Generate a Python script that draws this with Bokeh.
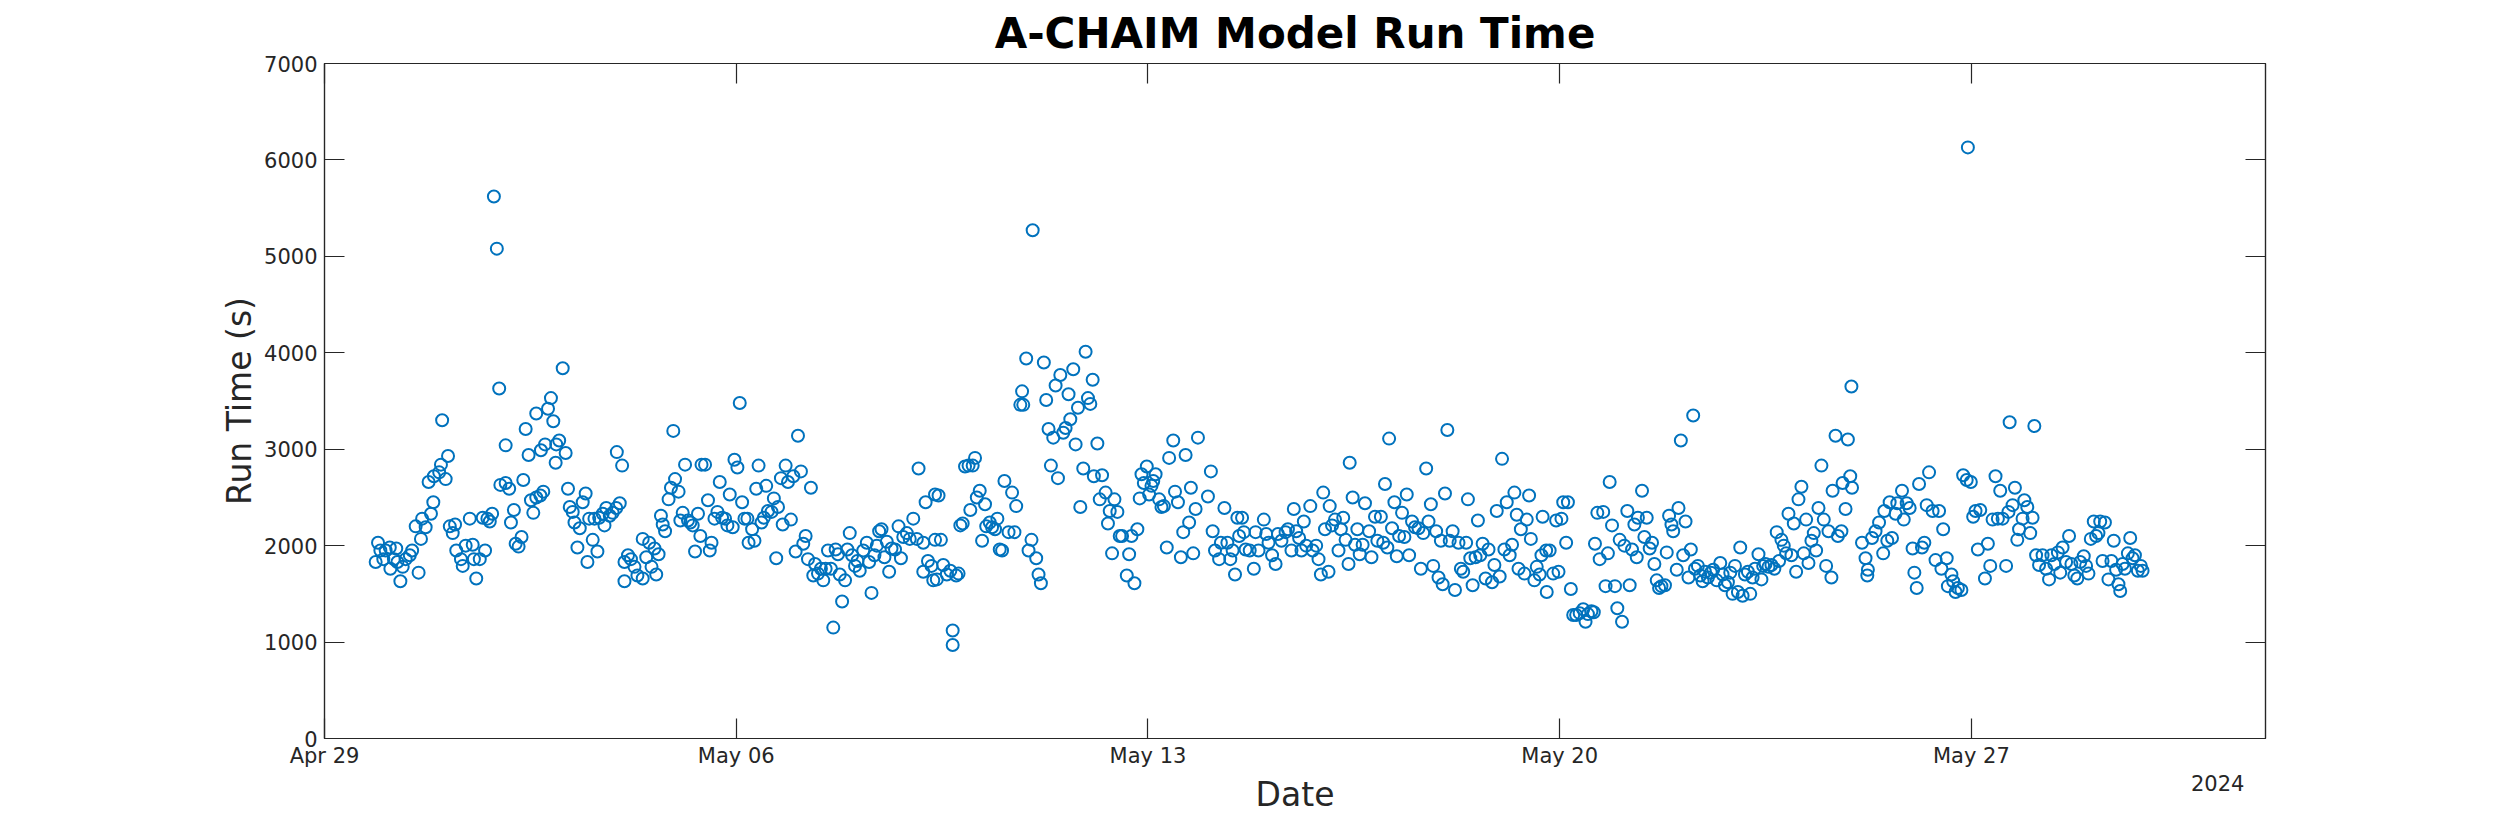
import pandas as pd
from bokeh.embed import file_html
from bokeh.resources import INLINE
from bokeh.plotting import figure
from bokeh.models import (ColumnDataSource, Range1d, FixedTicker, DatetimeAxis,
                          LinearAxis)

# data (days after 2024-04-29 00:00, run time in s)
start_date = "2024-04-29"
end_date = "2024-06-01"

run_day = [
    0.87, 0.91, 0.95, 1.00, 1.04, 1.11, 1.12, 1.18, 1.22, 1.24, 1.29, 1.33, 1.38, 1.45, 1.49,
    1.55, 1.60, 1.64, 1.66, 1.72, 1.77, 1.81, 1.85, 1.86, 1.95, 1.98, 2.00, 2.06, 2.10, 2.13,
    2.18, 2.22, 2.24, 2.32, 2.35, 2.40, 2.47, 2.52, 2.54, 2.58, 2.64, 2.69, 2.73, 2.77, 2.81,
    2.85, 2.88, 2.93, 2.97, 2.99, 3.08, 3.08, 3.14, 3.17, 3.22, 3.25, 3.30, 3.35, 3.38, 3.42,
    3.47, 3.51, 3.55, 3.60, 3.60, 3.67, 3.68, 3.72, 3.75, 3.80, 3.85, 3.89, 3.93, 3.94, 3.99,
    4.05, 4.10, 4.14, 4.17, 4.22, 4.25, 4.30, 4.34, 4.39, 4.44, 4.47, 4.50, 4.56, 4.59, 4.64,
    4.67, 4.73, 4.76, 4.79, 4.85, 4.90, 4.96, 4.97, 5.02, 5.06, 5.10, 5.10, 5.16,
    5.21, 5.27, 5.32, 5.41, 5.41, 5.47, 5.52, 5.56, 5.61, 5.64, 5.68, 5.72, 5.75, 5.79, 5.85,
    5.89, 5.93, 5.96, 6.02, 6.05, 6.09, 6.13, 6.18, 6.22, 6.26, 6.30, 6.35, 6.39, 6.41, 6.47,
    6.52, 6.55, 6.58, 6.63, 6.68, 6.72, 6.76, 6.81, 6.85, 6.89, 6.94, 6.97, 7.02, 7.06, 7.10,
    7.14, 7.19, 7.21, 7.27, 7.31, 7.34, 7.38, 7.43, 7.47, 7.51, 7.54, 7.60, 7.64, 7.68, 7.71,
    7.76, 7.79, 7.84, 7.88, 7.93, 7.97, 8.01, 8.05, 8.10, 8.14, 8.18, 8.22, 8.27, 8.31, 8.34,
    8.39, 8.44, 8.48, 8.52, 8.56, 8.61, 8.65, 8.69, 8.73, 8.76, 8.80, 8.85, 8.89, 8.93, 8.97,
    9.02, 9.06, 9.10, 9.16, 9.22, 9.26, 9.30, 9.35, 9.39, 9.43, 9.47, 9.52, 9.56, 9.60, 9.64,
    9.70, 9.76, 9.80, 9.84, 9.90, 9.95, 10.01, 10.07, 10.10, 10.18, 10.18, 10.22, 10.26, 10.32,
    10.35, 10.38, 10.38,
    10.41, 10.44, 10.48, 10.52, 10.58, 10.64, 10.68, 10.68, 10.74, 10.78, 10.81, 10.85, 10.89,
    10.95, 10.98, 11.02, 11.06, 11.09, 11.14, 11.18, 11.23, 11.25, 11.31, 11.35, 11.40, 11.44,
    11.48, 11.52, 11.56, 11.63, 11.69, 11.73, 11.76, 11.83, 11.86, 11.88, 11.93, 11.97, 12.02,
    12.04, 12.10, 12.14, 12.18, 12.23, 12.27, 12.31, 12.35, 12.39, 12.43, 12.47, 12.51, 12.56,
    12.60, 12.65, 12.68, 12.73, 12.77, 12.81, 12.85, 12.90, 12.94, 12.98, 13.02, 13.06, 13.08,
    13.14, 13.18, 13.22, 13.28, 13.32, 13.35, 13.39, 13.43, 13.48, 13.52, 13.56, 13.64, 13.68,
    13.72, 13.77, 13.82, 13.86, 13.89, 13.93, 13.98, 14.02, 14.06, 14.09, 14.13, 14.19, 14.23,
    14.27, 14.32, 14.36, 14.43, 14.46, 14.51, 14.56, 14.60, 14.64, 14.70, 14.73, 14.77, 14.81,
    14.85, 15.02, 15.07, 15.10, 15.14, 15.21, 15.24, 15.30, 15.35, 15.40, 15.44, 15.48, 15.52,
    15.55,
    15.60, 15.63, 15.66, 15.73, 15.80, 15.83, 15.88, 15.97, 16.01, 16.05, 16.11, 16.17, 16.21,
    16.27, 16.34, 16.38, 16.44, 16.48, 16.52, 16.57, 16.61, 16.65, 16.69, 16.76, 16.80, 16.86,
    16.90, 16.94, 16.98, 17.01, 17.07, 17.09, 17.13, 17.18, 17.24, 17.28, 17.32, 17.36, 17.41,
    17.43, 17.48, 17.52, 17.56, 17.60, 17.65, 17.69, 17.76, 17.80, 17.86, 17.90, 17.96, 18.00,
    18.03, 18.07, 18.10, 18.15, 18.19, 18.23, 18.27, 18.32, 18.36, 18.40, 18.44, 18.49, 18.54,
    18.60, 18.64, 18.68, 18.73, 18.77, 18.81, 18.85, 18.90, 18.94, 18.98, 19.01, 19.05, 19.09,
    19.13, 19.18, 19.22, 19.28, 19.32, 19.36, 19.41, 19.44, 19.48, 19.52, 19.57, 19.61, 19.65,
    19.69, 19.74, 19.79, 19.85, 19.89, 19.93, 19.98, 20.02, 20.06, 20.10, 20.15, 20.19, 20.23,
    20.27, 20.30, 20.34, 20.40, 20.44, 20.48, 20.51, 20.57, 20.61, 20.66, 20.69, 20.71, 20.77,
    20.78,
    20.83, 20.89, 20.94, 20.98, 21.03, 21.06, 21.11, 21.14, 21.19, 21.23, 21.28, 21.34, 21.40,
    21.44, 21.48, 21.54, 21.58, 21.60, 21.64, 21.68, 21.74, 21.78, 21.82, 21.85, 21.89, 21.94,
    21.98, 22.02, 22.06, 22.10, 22.15, 22.19, 22.23, 22.27, 22.31, 22.33, 22.40, 22.44, 22.48,
    22.53, 22.57, 22.61, 22.65, 22.69, 22.73, 22.79, 22.82, 22.86, 22.90, 22.93, 22.99, 23.02,
    23.06, 23.10, 23.14, 23.19, 23.23, 23.27, 23.30, 23.35, 23.39, 23.43, 23.47, 23.52, 23.57,
    23.61, 23.67, 23.73, 23.77, 23.81, 23.86, 23.90, 23.94, 23.98, 24.03, 24.07, 24.11, 24.15,
    24.20, 24.24, 24.28, 24.32, 24.38, 24.43, 24.46, 24.50, 24.55, 24.60, 24.65, 24.69, 24.73,
    24.77, 24.81, 24.85, 24.89, 24.94, 24.98, 25.02, 25.06, 25.11, 25.15, 25.19, 25.23, 25.28,
    25.32, 25.36, 25.40, 25.45, 25.49, 25.53, 25.57, 25.62, 25.64, 25.69, 25.73, 25.79, 25.81,
    25.86, 25.90, 25.94, 25.96, 25.97,
    26.14, 26.20, 26.23, 26.24, 26.31, 26.37, 26.43, 26.50, 26.52, 26.57, 26.61, 26.65, 26.71,
    26.74, 26.82, 26.85, 26.90, 26.95, 27.00, 27.03, 27.07, 27.11, 27.16, 27.20, 27.24, 27.28,
    27.34, 27.39, 27.45, 27.49, 27.52, 27.58, 27.60, 27.66, 27.69, 27.73, 27.77, 27.83, 27.86,
    27.92, 27.94, 27.99, 28.03, 28.07, 28.11, 28.15, 28.23, 28.28, 28.32, 28.36, 28.41, 28.45,
    28.49, 28.53, 28.59, 28.63, 28.65, 28.70, 28.74, 28.78, 28.81, 28.87, 28.90, 28.95, 29.00,
    29.04, 29.07, 29.10, 29.15, 29.21, 29.27, 29.32, 29.36, 29.41, 29.47, 29.51, 29.55, 29.61,
    29.66, 29.70, 29.75, 29.80, 29.85, 29.91, 29.95, 29.99, 30.03, 30.08, 30.12, 30.16, 30.19,
    30.23, 30.27, 30.33, 30.38, 30.42, 30.46, 30.50, 30.53, 30.57, 30.61, 30.66, 30.70, 30.74,
    30.78, 30.83, 30.88, 30.91,
]

run_time = [
    1830, 2030, 1950, 1860, 1950, 1980, 1760, 1860, 1970, 1830, 1630, 1780, 1860, 1900, 1950,
    2200, 1720, 2070, 2280, 2190, 2660, 2330, 2450, 2720, 2760, 2840, 3300, 2690, 2930, 2200,
    2130, 2220, 1950, 1860, 1790, 2000, 2280, 2010, 1860, 1660, 1860, 2290, 1950, 2280, 2250,
    2330, 5620, 5080, 3630, 2630, 2650, 3040, 2590, 2240, 2370, 2020, 1990, 2090, 2680, 3210,
    2940, 2470, 2340, 3370, 2500, 2520, 2990, 2560, 3050, 3420, 3530, 3290, 2860, 3050, 3090,
    3840, 2960, 2590, 2400, 2350, 2240, 1980, 2180, 2450, 2540, 1830, 2280, 2060, 2280, 1940,
    2290, 2330, 2210, 2390, 2310, 2340, 2390, 2970, 2440, 2830, 1830, 1630, 1900,
    1860, 1780, 1690, 1660, 2070, 1880, 2030, 1780, 1970, 1700, 1910, 2310, 2220, 2150, 2480,
    2600, 3190, 2690, 2560, 2260, 2340, 2840, 2260, 2240, 2210, 1940, 2330, 2100, 2840, 2840,
    2470, 1950, 2030, 2280, 2350, 2660, 2290, 2280, 2210, 2530, 2190, 2890, 2810, 3480, 2450,
    2280, 2280, 2030, 2170, 2050, 2590, 2830, 2240, 2290, 2620, 2360, 2350, 2490, 1870, 2400,
    2700, 2220, 2830, 2660, 2270, 2720, 1940, 3140, 2770, 2020, 2100, 1860, 2600, 1690, 1810,
    1710, 1760, 1640, 1760, 1950, 1760, 1150, 1960, 1910, 1700, 1420, 1640, 1960, 2130, 1900,
    1790, 1840, 1740, 1950, 2030, 1830, 1510, 1900, 2000, 2150, 2170, 1880, 2040, 1730, 1970,
    1960, 2200, 1870, 2090, 2130, 2070, 2280, 2070, 2800, 2030, 1730, 2450, 1840, 1790,
    1640, 2530, 2060,
    1650, 2520, 2060, 1800, 1700, 1740, 1120, 970, 1690, 1710, 2210, 2230, 2820,
    2830, 2370, 2830, 2910, 2500, 2570, 2050, 2430, 2200, 2240, 2190, 2170, 2280,
    1960, 1950, 2670, 2140, 2550, 2140, 2410, 3460, 3600, 3460, 3940, 1950, 2060,
    5270, 1870, 1700, 1610, 3900, 3510, 3210, 2830, 3120, 3660, 2700, 3770, 3170,
    3220, 3570, 3310, 3830, 3050, 3430, 2400, 2800, 4010, 3530, 3470, 3720, 2720,
    3060, 2480, 2730, 2550, 2230, 2360, 1920, 2480, 2350, 2100, 2100, 1690, 1910,
    2100, 1610, 2170, 2490, 2740, 2650, 2820, 2530, 2620, 2670, 2740, 2480, 2400,
    2410, 1980, 2910, 3090, 2560, 2450, 1880, 2140, 2940, 2240, 2600, 1920, 2380,
    3120, 2510, 2770, 2150, 1950, 1860, 2030, 2390, 2030, 1860, 1950, 1700, 2290,
    2100,
    2290, 2140, 1960, 1950, 1760, 2140, 1950, 2270, 2120, 2030, 1900, 1810, 2120,
    2050, 2140, 2170, 1950, 2380, 2150, 2080, 1950, 2250, 2000, 2410, 1950, 2000,
    1860, 1700, 2550, 2170, 1730, 2410, 2210, 2270, 1950, 2170, 2290, 2060, 1810,
    2860, 2500, 2010, 2170, 1910, 2010, 2440, 2150, 1880, 2300, 2050, 2300, 2030,
    2640, 1980, 3110, 2180, 2450, 1890, 2100, 2340, 2090, 2530, 1900, 2250, 2190,
    2180, 1760, 2130, 2800, 2250, 2430, 1790, 2150, 1670, 2050, 1600, 2540, 3200,
    2050, 2150, 1540, 2030, 1760, 1730, 2030, 2480, 1870, 1590, 1880, 2260, 1900,
    2020, 1660, 1960, 1620, 1800, 2360, 1680, 2900, 1960, 2450, 1900, 2010, 2550,
    2320, 1760, 2170, 1710, 2270, 2520, 2070, 1640, 1780, 1700, 1900, 2300, 1950,
    1520,
    1950, 1710, 2260, 1730, 2280, 2450, 2030, 2450, 1550, 1280, 1280, 1300, 1340,
    1210, 1290, 1320, 1310, 2020, 2340, 1860, 2350, 1580, 1920, 2660, 2210, 1580,
    1350, 2060, 1210, 2000, 2360, 1590, 1960, 2220, 1880, 2290, 2570, 2090, 2290,
    1970, 2030, 1810, 1640, 1560, 1580, 1590, 1930, 2310, 2220, 2150, 1750, 2390,
    3090, 1900, 2250, 1670, 1960, 3350, 1760, 1790, 1690, 1630, 1730, 1670, 1720,
    1750, 1640, 1820, 1700, 1590, 1620, 1720, 1500, 1790, 1520, 1980, 1480, 1700,
    1730, 1500, 1670, 1760, 1910, 1650, 1790, 1810, 1780, 1800, 1760, 2140, 1840,
    2060, 2000, 1920, 2330, 1900, 2230, 1730, 2480, 2610, 1920, 2270, 1820, 2050,
    2130, 1950, 2390, 2830, 2270, 1790, 2150, 1670, 2570, 3140, 2100, 2150, 2650,
    2380, 3100, 2720, 3650, 2600,
    2030, 1870, 1690, 1750, 2080, 2150, 2240, 1920, 2360, 2050, 2450, 2080, 2330,
    2440, 2570, 2270, 2440, 2390, 1970, 1720, 1560, 2640, 1980, 2030, 2420, 2760,
    2360, 1850, 2360, 1760, 2170, 1870, 1580, 1700, 1630, 1520, 1560, 1540, 2730,
    2680, 6130, 2660, 2300, 2360, 1960, 2370, 1660, 2020, 1790, 2270, 2720, 2280,
    2570, 2280, 1790, 2350, 3280, 2420, 2600, 2060, 2170, 2280, 2470, 2400, 2130,
    2290, 3240, 1900, 1800, 1900, 1760, 1650, 1900, 1810, 1930, 1720, 1980, 1830,
    2100, 1810, 1690, 1660, 1830, 1890, 1790, 1710, 2070, 2250, 2100, 2130, 2250,
    1840, 2240, 1650, 1840, 2050, 1750, 1600, 1530, 1810, 1760, 1920, 2080, 1870,
    1900, 1740, 1790, 1740,
]

tick_dates = ["2024-04-29", "2024-05-06", "2024-05-13", "2024-05-20", "2024-05-27"]
tick_labels = ["Apr 29", "May 06", "May 13", "May 20", "May 27"]
y_ticks = [0, 1000, 2000, 3000, 4000, 5000, 6000, 7000]
year_label = "2024"

AX = "#262626"
BLUE = "#0072BD"
FONT = "DejaVu Sans"


def ms(d):
    return int(pd.Timestamp(d).value // 1_000_000)


t0 = pd.Timestamp(start_date)
src = ColumnDataSource(data=dict(
    t=t0 + pd.to_timedelta(run_day, unit="D"),
    run=run_time,
))

tick_ms = [ms(d) for d in tick_dates]
# the year sits under the right end of the date axis, one line below the ticks
year_ms = ms(pd.Timestamp(end_date) - pd.Timedelta(hours=19.5))

p = figure(width=2484, height=825, x_axis_type="datetime",
           x_range=Range1d(ms(start_date), ms(end_date)),
           y_range=Range1d(0, 7000),
           title="A-CHAIM Model Run Time",
           x_axis_label="Date", y_axis_label="Run Time (s)",
           output_backend="svg", toolbar_location=None,
           min_border_left=324, min_border_right=219,
           min_border_top=63, min_border_bottom=87)

p.scatter(x="t", y="run", source=src, marker="circle", size=12,
          fill_color=None, line_color=BLUE, line_width=2)

p.grid.visible = False
p.outline_line_color = AX
p.outline_line_width = 1.2
p.background_fill_color = "white"
p.border_fill_color = "white"

p.title.align = "center"
p.title.text_font = FONT
p.title.text_font_size = "42px"
p.title.text_font_style = "bold"
p.title.text_color = "black"
p.title.standoff = 12

bottom = p.xaxis[0]
left = p.yaxis[0]

# bottom axis: date ticks drawn as minor ticks, labels (and the year) as majors
labels = dict(zip(tick_ms, tick_labels))
labels[year_ms] = "\n" + year_label
bottom.ticker = FixedTicker(ticks=tick_ms + [year_ms], minor_ticks=tick_ms)
bottom.major_label_overrides = labels
left.ticker = FixedTicker(ticks=y_ticks)

# extra axes so the box has inward ticks on all four sides
top_axis = DatetimeAxis(ticker=FixedTicker(ticks=tick_ms))
right_axis = LinearAxis(ticker=FixedTicker(ticks=y_ticks))
p.add_layout(top_axis, "above")
p.add_layout(right_axis, "right")

for ax in (bottom, left, top_axis, right_axis):
    ax.axis_line_color = AX
    ax.axis_line_width = 1.2
    ax.major_tick_line_color = AX
    ax.major_tick_line_width = 1.2
    ax.major_tick_in = 20
    ax.major_tick_out = 0
    ax.minor_tick_line_color = None
    ax.major_label_text_font = FONT
    ax.major_label_text_font_size = "21px"
    ax.major_label_text_color = AX
    ax.axis_label_text_font = FONT
    ax.axis_label_text_font_size = "33px"
    ax.axis_label_text_font_style = "normal"
    ax.axis_label_text_color = AX

for ax in (top_axis, right_axis):
    ax.major_label_text_color = None
    ax.major_label_text_font_size = "1px"

bottom.major_tick_line_color = None
bottom.minor_tick_line_color = AX
bottom.minor_tick_line_width = 1.2
bottom.minor_tick_in = 20
bottom.minor_tick_out = 0
bottom.major_label_standoff = 5
bottom.axis_label_standoff = -24

left.major_label_standoff = 7
left.axis_label_standoff = 2

open("out.html", "w").write(file_html(p, INLINE))
